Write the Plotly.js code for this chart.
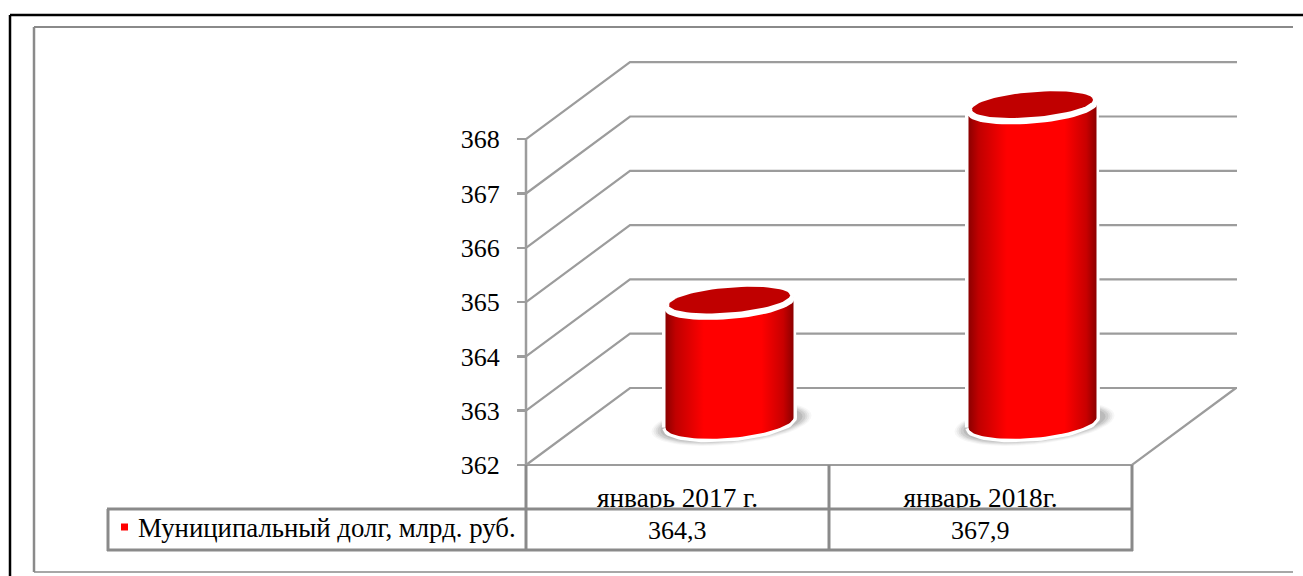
<!DOCTYPE html>
<html>
<head>
<meta charset="utf-8">
<script src="https://cdn.plot.ly/plotly-3.0.1.min.js"></script>
<style>html,body{margin:0;padding:0;background:#fff}#chart{width:1303px;height:576px}</style>
</head>
<body>
<div id="chart"></div>
<script>
// Municipal debt, January 2017 vs January 2018
const categories = ['январь 2017 г.', 'январь 2018г.'];
const debtValues = [364.3, 367.9];
const seriesName = 'Муниципальный долг, млрд. руб.';
const valueTicks = [362, 363, 364, 365, 366, 367, 368];

const W = 1303, H = 576;
const FONT = '"Liberation Serif", "Times New Roman", serif';
const GRID = '#9c9c9c', TABLE = '#8a8a8a';

// Pixel geometry of the pseudo-3D box: category band and value unit on the front plane
const frontLeft = 526, bandPx = 303, floorPx = 465, unitPx = 54.3;
const depthX = 104, depthY = 77;

// Axis ranges chosen so that the plot area fills the page
const xRange = [-0.5 - frontLeft / bandPx, -0.5 + (W - frontLeft) / bandPx];
const yRange = [362 - (H - floorPx) / unitPx, 362 + floorPx / unitPx];
const dxUnits = px => px / bandPx;
const dyUnits = px => px / unitPx;
const px = v => v / W, py = v => 1 - v / H;

// Sheared ellipse outline in data units
function ellipse(cat, val, a, b, tilt, n, start, end) {
  const xs = [], ys = [];
  for (let i = 0; i <= n; i++) {
    const t = start + (end - start) * i / n;
    const ax = a * Math.cos(t);
    xs.push(cat + dxUnits(ax));
    ys.push(val + dyUnits(tilt * ax + b * Math.sin(t)));
  }
  return {xs, ys};
}

const traces = [];
const addFill = (xs, ys, fill, extra) => traces.push(Object.assign({
  type: 'scatter', mode: 'lines', x: xs, y: ys, fill: 'toself', fillcolor: fill,
  line: {width: 0, color: fill}, hoverinfo: 'skip', showlegend: false
}, extra || {}));
const addLine = (xs, ys, color, width) => traces.push({
  type: 'scatter', mode: 'lines', x: xs, y: ys, line: {color, width},
  hoverinfo: 'skip', showlegend: false
});

// Gridlines: front edge up the side wall, then along the back wall
valueTicks.forEach(v => {
  const xFront = -0.5, xBack = -0.5 + dxUnits(depthX);
  const yBack = v + dyUnits(depthY);
  addLine([xFront, xBack, xBack + 2 + dxUnits(1)], [v, yBack, yBack], GRID, 2.2);
});
// Floor and value axis
addLine([-0.5, 1.5, 1.5 + dxUnits(depthX)], [362, 362, 362 + dyUnits(depthY)], GRID, 2.2);
addLine([-0.5, -0.5], [362, 368], GRID, 2.5);

// Cylinders stand halfway into the box depth
const midX = dxUnits(depthX / 2), midY = dyUnits(depthY / 2);
const halfW = 64, baseLift = dyUnits(4);

debtValues.forEach((value, i) => {
  const cat = i + midX;
  const top = value + midY;
  const bottom = 362 + midY + baseLift;

  // Soft shadow under the base
  [[80, 21, .05], [78, 20, .07], [76, 19, .09], [74, 18, .12], [71, 17, .15]].forEach(s => {
    const e = ellipse(cat + dxUnits(2), bottom - dyUnits(1), s[0], s[1], .1, 48, 0, 2 * Math.PI);
    addFill(e.xs, e.ys, `rgba(90,90,90,${s[2]})`);
  });

  // Body: lower arc, then across the upper rim
  const lower = ellipse(cat, bottom, halfW, 15.5, .08, 48, Math.PI, 2 * Math.PI);
  const upper = ellipse(cat, top - dyUnits(2.5), halfW, 15, .08, 48, 0, Math.PI);
  const bodyX = lower.xs.concat(upper.xs, [lower.xs[0]]);
  const bodyY = lower.ys.concat(upper.ys, [lower.ys[0]]);
  addLine(bodyX, bodyY, '#ffffff', 7);
  addFill(bodyX, bodyY, '#ff0000', {
    fillgradient: {
      type: 'horizontal',
      colorscale: [[0, '#8c0000'], [.08, '#c00000'], [.3, '#ff0000'], [.75, '#ff0000'], [.92, '#c80000'], [1, '#8c0000']]
    }
  });

  // White rim and dark top cap
  const rim = ellipse(cat, top - dyUnits(2.5), halfW + 1, 15, .08, 64, 0, 2 * Math.PI);
  addFill(rim.xs, rim.ys, '#ffffff');
  const cap = ellipse(cat, top + dyUnits(1.5), 60.5, 12.5, .08, 64, 0, 2 * Math.PI);
  addFill(cap.xs, cap.ys, '#c00000');
});

// Legend key inside the data table
traces.push({
  type: 'scatter', mode: 'markers', name: seriesName,
  x: [xRange[0] + dxUnits(124.5)], y: [yRange[1] - dyUnits(527)],
  marker: {symbol: 'square', size: 7, color: '#ff0000', line: {width: 0}},
  hoverinfo: 'skip', showlegend: false
});

const rule = (x0, y0, x1, y1, color, width, layer) => ({
  type: 'line', xref: 'paper', yref: 'paper', layer: layer || 'above',
  x0: px(x0), y0: py(y0), x1: px(x1), y1: py(y1), line: {color, width}
});

const shapes = [
  // Outer frames
  rule(10, 15, W, 15, '#000000', 2.5),
  rule(10, 15, 10, H, '#000000', 2.5),
  rule(34, 27, W - 10, 27, TABLE, 2),
  rule(34, 27, 34, 572, TABLE, 2.5),
  rule(34, 572, W - 10, 572, TABLE, 1.5),
  // Data-table background hides descenders of the category row
  {type: 'rect', xref: 'paper', yref: 'paper', layer: 'above',
   x0: px(526), y0: py(509), x1: px(1132), y1: py(550),
   fillcolor: '#ffffff', line: {width: 0}},
  // Data-table rules
  rule(526, 465, 526, 551, TABLE, 3),
  rule(829, 465, 829, 551, TABLE, 3),
  rule(1132, 465, 1132, 551, TABLE, 3),
  rule(107, 509, 1133, 509, TABLE, 3),
  rule(107, 550, 1133, 550, TABLE, 3),
  rule(108, 509, 108, 551, TABLE, 3)
];

const cellText = (text, x, size, yCentre, anchor) => ({
  xref: 'paper', yref: 'paper', x: px(x), y: py(yCentre), xanchor: anchor || 'center', yanchor: 'middle',
  text, showarrow: false, font: {family: FONT, size: size, color: '#000000'}
});

const annotations = debtValues.map((v, i) =>
  cellText(v.toFixed(1).replace('.', ','), 526 + bandPx * (i + .5), 26, 530)
).concat([cellText(seriesName, 135.5, 26.8, 528, 'left')]);

const layout = {
  width: W, height: H,
  margin: {l: 0, r: 0, t: 0, b: 0, pad: 0},
  paper_bgcolor: '#ffffff', plot_bgcolor: '#ffffff',
  showlegend: false, hovermode: false, dragmode: false,
  xaxis: {
    range: xRange, tickmode: 'array', tickvals: categories.map((_, i) => i), ticktext: categories,
    showgrid: false, zeroline: false, showline: false, ticks: '',
    anchor: 'free', position: py(479),
    tickfont: {family: FONT, size: 27.3, color: '#000000'}, fixedrange: true
  },
  yaxis: {
    range: yRange, tickmode: 'array', tickvals: valueTicks, ticktext: valueTicks.map(String),
    showgrid: false, zeroline: false, showline: false,
    ticks: 'outside', ticklen: 9, tickwidth: 2.5, tickcolor: GRID,
    anchor: 'free', position: px(frontLeft), ticklabelstandoff: 12, ticklabelshift: 1.5,
    tickfont: {family: FONT, size: 26, color: '#000000'}, fixedrange: true
  },
  shapes, annotations
};

Plotly.newPlot('chart', traces, layout, {displayModeBar: false, staticPlot: true});
</script>
</body>
</html>
